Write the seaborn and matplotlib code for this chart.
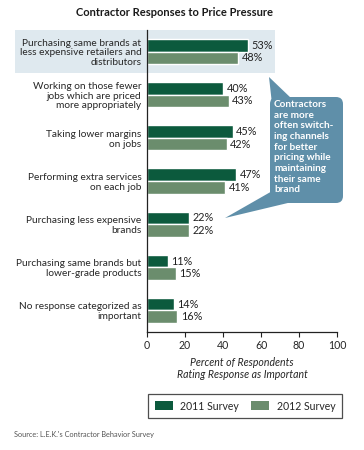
import numpy as np
import pandas as pd
import matplotlib
matplotlib.use("Agg")
import matplotlib.pyplot as plt
import matplotlib.patches as mpatches
from matplotlib.ticker import FixedLocator
import seaborn as sns

# ── data ──────────────────────────────────────────────
categories = [
    "Purchasing same brands at\nless expensive retailers and\ndistributors",
    "Working on those fewer\njobs which are priced\nmore appropriately",
    "Taking lower margins\non jobs",
    "Performing extra services\non each job",
    "Purchasing less expensive\nbrands",
    "Purchasing same brands but\nlower-grade products",
    "No response categorized as\nimportant",
]
survey_2011 = [53, 40, 45, 47, 22, 11, 14]
survey_2012 = [48, 43, 42, 41, 22, 15, 16]
series_names = ["2011 Survey", "2012 Survey"]
x_ticks = [0, 20, 40, 60, 80, 100]

DARK = "#0c5a3d"
LIGHT = "#6b8d6d"
BUBBLE = "#5f8fa9"
HILITE = "#dfe9ef"
FS = 7.3

df = pd.DataFrame({
    "category": categories * 2,
    "value": survey_2011 + survey_2012,
    "survey": [series_names[0]] * len(categories) + [series_names[1]] * len(categories),
})

sns.set_style("white")
plt.rcParams["font.family"] = ["Lato", "DejaVu Sans"]

W, H = 364, 450
fig = plt.figure(figsize=(W / 100, H / 100), dpi=100)
ax = fig.add_axes([147 / W, 1 - 332 / H, 190 / W, 302 / H])
ax.patch.set_alpha(0)
ax.set_zorder(1)


def inch(x, y):
    """pixel position (from top-left) -> inches for dpi_scale_trans"""
    return x / 100, (H - y) / 100


# highlight box behind first group
x0, y0 = inch(15, 73)
hl = mpatches.Rectangle((x0, y0), 260 / 100, 43 / 100, transform=fig.dpi_scale_trans,
                        facecolor=HILITE, edgecolor="none", zorder=-1)
fig.patches.append(hl)

sns.barplot(data=df, x="value", y="category", hue="survey", orient="h",
            palette=[DARK, LIGHT], width=0.58, saturation=1, legend=False, ax=ax)

for cont in ax.containers:
    ax.bar_label(cont, fmt="%d%%", padding=2.5, fontsize=7.8, color="#222222")

ax.set_xlim(0, 100)
ax.set_ylim(len(categories) - 0.5, -0.5)
ax.set_xticks(x_ticks)
ax.set_xticklabels([str(t) for t in x_ticks], fontsize=7.6)
ax.yaxis.set_minor_locator(FixedLocator(np.arange(-0.5, len(categories), 1.0)))
ax.tick_params(axis="y", which="major", length=0, pad=4, labelsize=FS)
ax.tick_params(axis="y", which="minor", length=3.5, width=0.8, color="#222222")
ax.tick_params(axis="x", which="major", length=3.5, width=0.8, color="#222222",
               pad=2, bottom=True)
for lab in ax.get_yticklabels():
    lab.set_linespacing(1.1)
ax.set_ylabel("")
ax.set_xlabel("Percent of Respondents\nRating Response as Important",
              fontsize=7.6, style="italic", labelpad=4.5, linespacing=1.1)
sns.despine(ax=ax)
for s in ["left", "bottom"]:
    ax.spines[s].set_color("#222222")
    ax.spines[s].set_linewidth(0.9)

# title
fig.text(174 / W, 1 - 12 / H, "Contractor Responses to Price Pressure",
         ha="center", va="center", fontsize=8, fontweight="bold", color="#1a1a1a")

# callout bubble
bx, by = inch(270, 203)
body = mpatches.FancyBboxPatch((bx, by), 73 / 100, 106 / 100,
                               boxstyle="round,pad=0,rounding_size=0.07",
                               transform=fig.dpi_scale_trans, facecolor=BUBBLE,
                               edgecolor="none", zorder=3)
tail_top = mpatches.Polygon([inch(269, 77), inch(272, 104), inch(292, 99)],
                            closed=True, transform=fig.dpi_scale_trans,
                            facecolor=BUBBLE, edgecolor="none", zorder=3)
tail_bot = mpatches.Polygon([inch(225, 218), inch(274, 190), inch(292, 202)],
                            closed=True, transform=fig.dpi_scale_trans,
                            facecolor=BUBBLE, edgecolor="none", zorder=3)
for p in (body, tail_top, tail_bot):
    fig.patches.append(p)
fig.text(274 / W, 1 - 100 / H,
         "Contractors\nare more\noften switch-\ning channels\nfor better\npricing while\n"
         "maintaining\ntheir same\nbrand",
         ha="left", va="top", fontsize=7.2, fontweight="bold", color="white",
         linespacing=1.24, zorder=4)

# legend
handles = [mpatches.Patch(facecolor=c, edgecolor="none", label=n)
           for c, n in zip([DARK, LIGHT], series_names)]
leg = fig.legend(handles=handles, loc="center",
                 bbox_to_anchor=(245 / W, 1 - 406 / H),
                 ncol=2, fontsize=7.6, frameon=True, fancybox=False,
                 handlelength=1.7, handleheight=0.9, handletextpad=0.7,
                 columnspacing=1.2, borderpad=0.65, borderaxespad=0)
leg.get_frame().set_edgecolor("#222222")
leg.get_frame().set_linewidth(0.9)

fig.text(14 / W, 1 - 434 / H, "Source: L.E.K.'s Contractor Behavior Survey",
         ha="left", va="center", fontsize=5.3, color="#555555")

fig.savefig("out.png", dpi=100)
